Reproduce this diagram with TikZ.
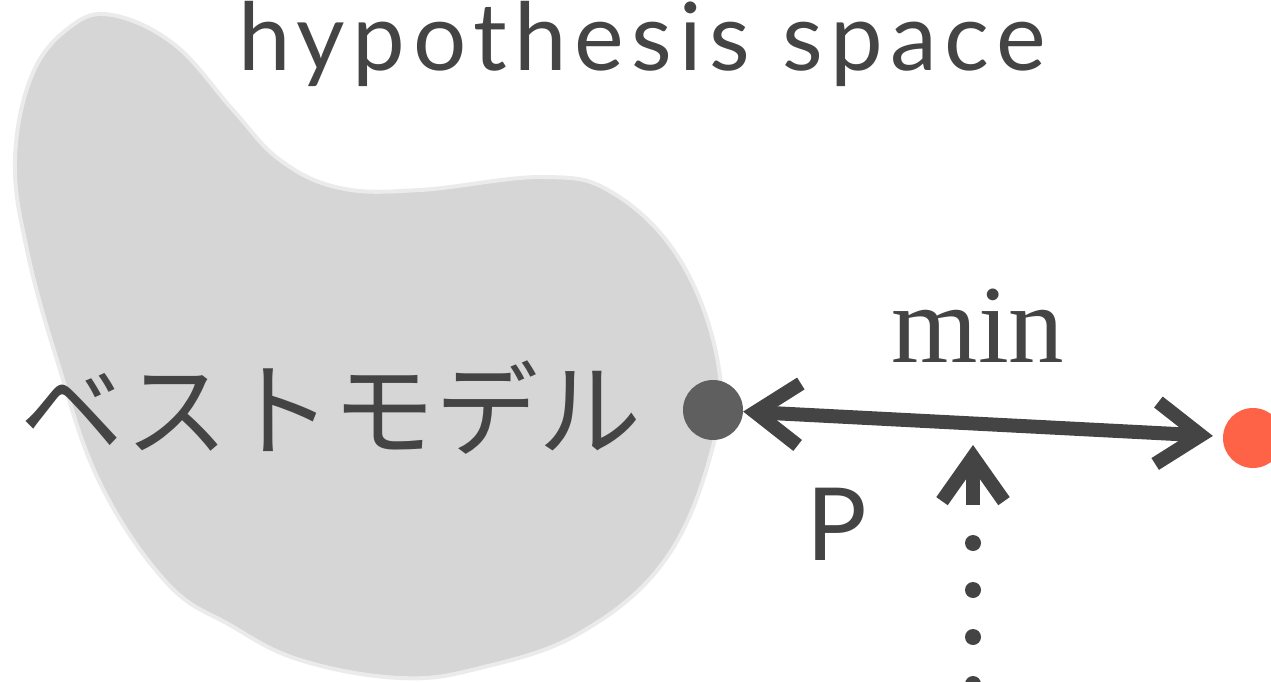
\documentclass[tikz,border=0pt]{standalone}
\usepackage{fontspec}
\setmainfont{Lato}
\newfontfamily\titlefont[LetterSpace=8]{Lato}
\newfontfamily\jpfont{Noto Sans CJK JP}
\newfontfamily\minfont{Liberation Serif}
\usetikzlibrary{arrows.meta}
\definecolor{ink}{HTML}{444444}
\definecolor{blobfill}{HTML}{D6D6D6}
\definecolor{blobline}{HTML}{EBEBEB}
\definecolor{dotgray}{HTML}{5F5F5F}
\definecolor{tomatored}{HTML}{FF6347}
\tikzset{barb/.tip={Straight Barb[length=44pt,width=62pt,line join=miter]}}
\begin{document}
\begin{tikzpicture}[x=1pt,y=-1pt,
  txt/.style={text=ink, inner sep=0pt},
  dotnode/.style={circle, minimum size=60pt, inner sep=0pt},
  bigarrow/.style={draw=ink, line width=14pt, {barb}-{barb}},
  uparrow/.style={draw=ink, line width=14pt, -{barb}},
  dotline/.style={draw=ink, line width=16pt, line cap=round, dash pattern=on 0pt off 47pt}
]
\useasboundingbox (0,0) rectangle (1271,682);
\clip (0,0) rectangle (1271,682);
% blob
\draw[fill=blobfill, draw=blobline, line width=4pt]
  plot[smooth cycle, tension=0.65] coordinates {
  (112,15) (175,45) (233,110) (280,160) (340,188) (420,190) (543,177)
  (613,193) (680,260) (718,363) (712,450) (665,560) (580,633) (480,668)
  (400,678) (300,660) (230,625) (167,583) (100,483) (57,360) (27,250)
  (15,160) (32,75) (70,27)};
% texts
\node[txt, font=\titlefont\fontsize{94}{94}\selectfont, anchor=base] (title) at (642,71) {hypothesis space};
\node[txt, font=\jpfont\fontsize{103}{103}\selectfont, anchor=base] (best) at (331,448) {ベストモデル};
\node[txt, font=\minfont\fontsize{111}{111}\selectfont, anchor=base] (min) at (978,362) {min};
\node[txt, font=\fontsize{101}{101}\selectfont, anchor=base] (p) at (837,560) {P};
% dots
\node[dotnode, fill=dotgray] (g) at (713,410) {};
\node[dotnode, fill=tomatored] (r) at (1253,438) {};
% main arrow
\draw[bigarrow, shorten >=10pt] (g) -- (r);
% dotted arrow
\coordinate (dtip) at (973,445);
\coordinate (dstub) at (973,505);
\coordinate (dstart) at (973,543);
\coordinate (dbot) at (973,720);
\draw[uparrow] (dstub) -- (dtip);
\draw[dotline] (dstart) -- (dbot);
\end{tikzpicture}
\end{document}
